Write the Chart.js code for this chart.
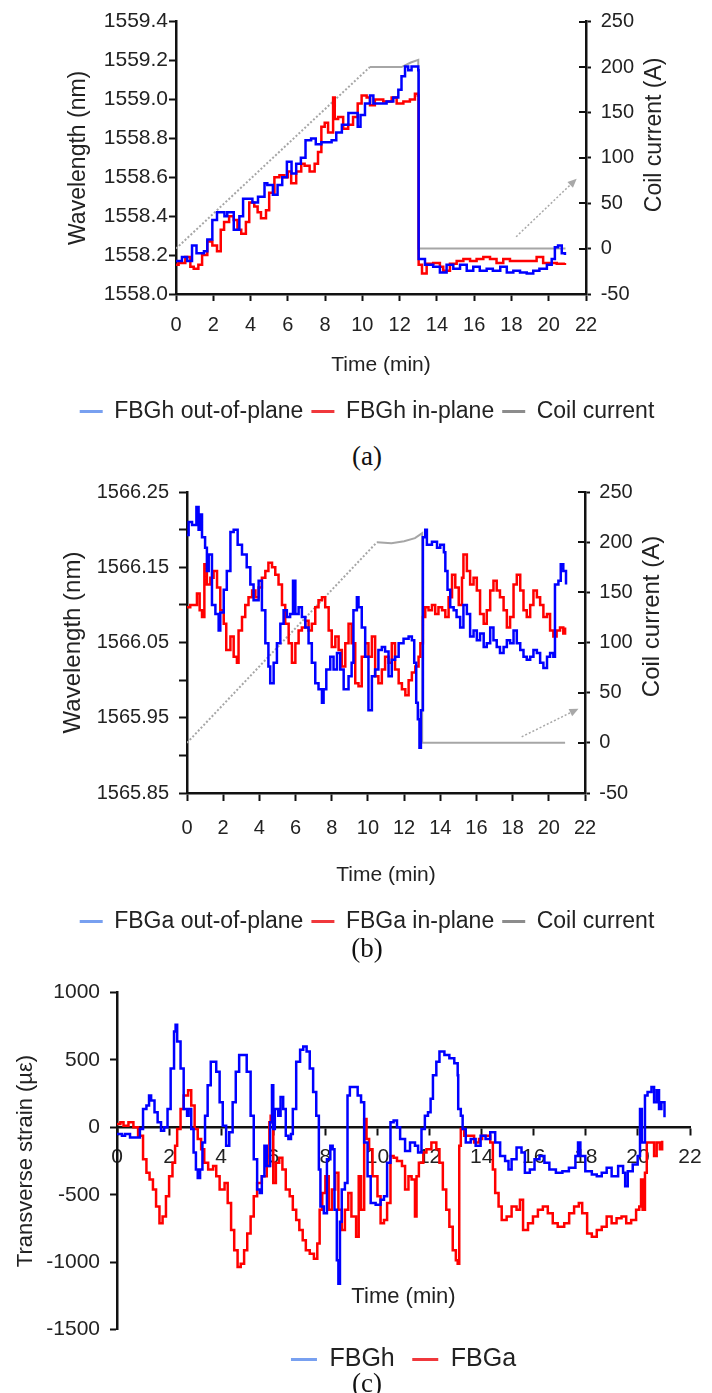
<!DOCTYPE html>
<html>
<head>
<meta charset="utf-8">
<script src="https://cdn.jsdelivr.net/npm/chart.js@4.4.1/dist/chart.umd.min.js"></script>
<style>
  html, body { margin: 0; padding: 0; background: #fff; }
  body { width: 712px; height: 1393px; position: relative; overflow: hidden; }
  canvas { position: absolute; }
  .cap { position: absolute; width: 100px; text-align: center; font: 27px "Liberation Serif", "Times New Roman", serif; line-height: 30px; color: #111; }
</style>
</head>
<body>
<canvas id="chartA" width="690" height="433" style="left:22px;top:0"></canvas>
<div class="cap" style="left:317px;top:441px">(a)</div>
<canvas id="chartB" width="690" height="473" style="left:22px;top:470px"></canvas>
<div class="cap" style="left:317px;top:933px">(b)</div>
<canvas id="chartC" width="712" height="412" style="left:0;top:970px"></canvas>
<div class="cap" style="left:317px;top:1368px">(c)</div>
<script>
// ---- tick values ----
const timeTicks = [0, 2, 4, 6, 8, 10, 12, 14, 16, 18, 20, 22]
const coilTicks = [-50, 0, 50, 100, 150, 200, 250]
const aWaveTicks = [1558.0, 1558.2, 1558.4, 1558.6, 1558.8, 1559.0, 1559.2, 1559.4]
const bWaveTicks = [1565.85, 1565.9, 1565.95, 1566.0, 1566.05, 1566.1, 1566.15, 1566.2, 1566.25]
const strainTicks = [-1500, -1000, -500, 0, 500, 1000]

// ---- (a) FBGh ----
const aBlueT = [0, 0.32, 0.6, 0.86, 1.1, 1.5, 1.68, 1.95, 2.2, 2.6, 2.75, 3.1, 3.4, 3.6, 3.85, 4.1, 4.4, 4.75, 4.9, 5.2,
  5.45, 5.7, 5.95, 6.2, 6.45, 6.7, 6.95, 7.25, 7.5, 7.8, 8.05, 8.35, 8.6, 8.9, 9.25, 9.6, 9.75, 9.9, 10.14, 10.41,
  10.59, 10.94, 11.3, 11.66, 11.93, 12.1, 12.29, 12.46, 12.64, 12.82, 13.0, 13.02, 13.36, 13.8, 14.16, 14.52, 14.88,
  15.24, 15.6, 15.95, 16.3, 16.67, 17.0, 17.4, 17.75, 18.1, 18.46, 18.82, 19.17, 19.5, 19.9, 20.16, 20.33, 20.5, 20.7, 20.87]
const aBlue = [1558.17, 1558.19, 1558.17, 1558.25, 1558.21, 1558.22, 1558.28, 1558.38, 1558.42, 1558.40, 1558.42,
  1558.33, 1558.40, 1558.49, 1558.49, 1558.47, 1558.50, 1558.57, 1558.56, 1558.51, 1558.56, 1558.60, 1558.68, 1558.62,
  1558.67, 1558.70, 1558.79, 1558.80, 1558.77, 1558.78, 1558.78, 1558.79, 1558.83, 1558.87, 1558.93, 1558.93, 1558.86,
  1558.92, 1558.98, 1559.02, 1558.98, 1558.98, 1558.99, 1559.01, 1559.05, 1559.12, 1559.17, 1559.15, 1559.17, 1559.17,
  1559.15, 1558.18, 1558.15, 1558.14, 1558.11, 1558.15, 1558.13, 1558.15, 1558.12, 1558.14, 1558.12, 1558.13, 1558.12,
  1558.14, 1558.11, 1558.12, 1558.11, 1558.105, 1558.12, 1558.13, 1558.15, 1558.18, 1558.24, 1558.25, 1558.21, 1558.20]
const aRedT = [0, 0.14, 0.5, 0.77, 0.95, 1.2, 1.4, 1.68, 1.95, 2.2, 2.4, 2.58, 2.85, 3.1, 3.3, 3.5, 3.75, 3.93, 4.2,
  4.38, 4.56, 4.83, 5.0, 5.28, 5.55, 5.82, 6.0, 6.18, 6.45, 6.72, 6.9, 7.17, 7.44, 7.62, 7.8, 7.98, 8.16, 8.43, 8.52,
  8.7, 8.97, 9.24, 9.5, 9.75, 9.96, 10.23, 10.41, 10.67, 11.12, 11.57, 11.84, 12.2, 12.55, 12.82, 12.98, 13.02, 13.2,
  13.45, 13.8, 14.16, 14.34, 14.7, 15.06, 15.42, 15.78, 16.13, 16.49, 16.85, 17.2, 17.56, 17.92, 18.28, 18.64, 19.0,
  19.35, 19.7, 20.07, 20.43, 20.87]
const aRed = [1558.15, 1558.16, 1558.19, 1558.14, 1558.13, 1558.15, 1558.20, 1558.27, 1558.25, 1558.22, 1558.33,
  1558.37, 1558.40, 1558.38, 1558.33, 1558.31, 1558.37, 1558.47, 1558.45, 1558.42, 1558.39, 1558.43, 1558.52, 1558.60,
  1558.61, 1558.60, 1558.63, 1558.57, 1558.63, 1558.67, 1558.66, 1558.63, 1558.67, 1558.73, 1558.86, 1558.88, 1558.83,
  1559.01, 1558.90, 1558.91, 1558.85, 1558.87, 1558.91, 1558.98, 1559.02, 1559.01, 1558.97, 1559.00, 1558.99, 1559.01,
  1558.98, 1558.99, 1559.00, 1559.03, 1559.02, 1558.15, 1558.105, 1558.155, 1558.16, 1558.14, 1558.12, 1558.155,
  1558.17, 1558.18, 1558.17, 1558.18, 1558.19, 1558.18, 1558.16, 1558.18, 1558.17, 1558.17, 1558.17, 1558.17, 1558.19,
  1558.16, 1558.16, 1558.155, 1558.16]
const aCoilT = [0, 10.4, 12.1, 12.6, 13.0, 13.0, 20.9]
const aCoil = [0, 200, 200, 205, 208, 0, 0]

// ---- (b) FBGa ----
const bBlueT = [0, 0.09, 0.28, 0.52, 0.64, 0.74, 0.83, 1.0, 1.1, 1.2, 1.38, 1.57, 1.75, 1.84, 2.03, 2.2, 2.4, 2.58,
  2.8, 3.04, 3.3, 3.5, 3.68, 3.96, 4.14, 4.33, 4.5, 4.6, 4.79, 4.97, 5.16, 5.34, 5.52, 5.7, 5.86, 5.99, 6.17, 6.35,
  6.54, 6.72, 6.9, 7.09, 7.27, 7.46, 7.55, 7.7, 7.92, 8.1, 8.29, 8.47, 8.66, 8.93, 9.1, 9.2, 9.39, 9.48, 9.66, 9.85,
  10.03, 10.22, 10.4, 10.58, 10.77, 10.95, 11.14, 11.32, 11.5, 11.7, 11.97, 12.25, 12.43, 12.56, 12.67, 12.76, 12.85,
  12.93, 13.04, 13.17, 13.26, 13.54, 13.82, 14.0, 14.2, 14.28, 14.4, 14.55, 14.74, 14.9, 15.1, 15.28, 15.47, 15.65,
  15.84, 16.02, 16.2, 16.4, 16.57, 16.76, 16.94, 17.12, 17.3, 17.5, 17.68, 17.86, 18.05, 18.23, 18.42, 18.6, 18.78,
  18.97, 19.15, 19.34, 19.52, 19.7, 19.9, 20.07, 20.25, 20.34, 20.53, 20.66, 20.8, 20.95]
const bBlue = [1566.193, 1566.21, 1566.206, 1566.23, 1566.20, 1566.22, 1566.19, 1566.176, 1566.145, 1566.167, 1566.10,
  1566.088, 1566.066, 1566.09, 1566.12, 1566.145, 1566.197, 1566.20, 1566.18, 1566.167, 1566.15, 1566.127, 1566.106,
  1566.132, 1566.093, 1566.049, 1566.018, 1565.996, 1566.023, 1566.049, 1566.075, 1566.093, 1566.084, 1566.088,
  1566.132, 1566.088, 1566.097, 1566.084, 1566.07, 1566.049, 1566.023, 1565.996, 1565.988, 1565.97, 1565.988,
  1566.014, 1566.031, 1566.014, 1566.036, 1566.014, 1565.988, 1566.005, 1566.023, 1566.093, 1566.11, 1566.097,
  1566.07, 1566.031, 1565.96, 1566.005, 1566.014, 1566.04, 1566.044, 1566.038, 1566.005, 1566.027, 1566.031, 1566.049,
  1566.055, 1566.058, 1566.053, 1566.023, 1565.97, 1565.948, 1565.91, 1565.96, 1566.19, 1566.20, 1566.18, 1566.184,
  1566.176, 1566.18, 1566.17, 1566.145, 1566.12, 1566.097, 1566.093, 1566.084, 1566.07, 1566.10, 1566.088, 1566.058,
  1566.066, 1566.053, 1566.062, 1566.044, 1566.049, 1566.07, 1566.053, 1566.044, 1566.036, 1566.044, 1566.053,
  1566.049, 1566.066, 1566.049, 1566.04, 1566.031, 1566.027, 1566.031, 1566.04, 1566.036, 1566.023, 1566.016,
  1566.031, 1566.036, 1566.031, 1566.127, 1566.132, 1566.154, 1566.145, 1566.127]
const bRedT = [0, 0.18, 0.37, 0.55, 0.7, 0.83, 0.96, 1.1, 1.29, 1.47, 1.66, 1.84, 2.03, 2.17, 2.4, 2.58, 2.76, 2.85,
  3.04, 3.22, 3.4, 3.6, 3.78, 3.96, 4.14, 4.33, 4.5, 4.7, 4.88, 5.06, 5.25, 5.43, 5.62, 5.8, 5.99, 6.17, 6.35, 6.54,
  6.72, 6.9, 7.09, 7.27, 7.46, 7.64, 7.83, 8.0, 8.2, 8.38, 8.56, 8.75, 8.93, 9.1, 9.3, 9.48, 9.66, 9.85, 10.03, 10.22,
  10.4, 10.58, 10.77, 10.95, 11.14, 11.32, 11.5, 11.7, 11.88, 12.07, 12.25, 12.43, 12.62, 12.8, 12.9, 13.04, 13.17,
  13.35, 13.54, 13.72, 13.9, 14.1, 14.28, 14.46, 14.65, 14.83, 15.02, 15.2, 15.28, 15.47, 15.65, 15.84, 16.02, 16.2,
  16.4, 16.57, 16.76, 16.94, 17.12, 17.3, 17.5, 17.68, 17.86, 18.05, 18.23, 18.42, 18.6, 18.78, 18.97, 19.15, 19.34,
  19.52, 19.7, 19.9, 20.07, 20.25, 20.43, 20.62, 20.8, 20.9]
const bRed = [1566.097, 1566.10, 1566.10, 1566.115, 1566.093, 1566.084, 1566.154, 1566.127, 1566.136, 1566.145,
  1566.123, 1566.093, 1566.075, 1566.04, 1566.058, 1566.031, 1566.023, 1566.066, 1566.084, 1566.10, 1566.11, 1566.119,
  1566.11, 1566.123, 1566.136, 1566.145, 1566.156, 1566.15, 1566.14, 1566.127, 1566.10, 1566.075, 1566.049, 1566.023,
  1566.049, 1566.066, 1566.07, 1566.079, 1566.066, 1566.075, 1566.097, 1566.106, 1566.11, 1566.097, 1566.066, 1566.044,
  1566.058, 1566.04, 1566.018, 1566.049, 1566.075, 1566.049, 1565.996, 1565.992, 1566.031, 1566.049, 1566.031,
  1566.058, 1566.005, 1565.996, 1566.014, 1566.031, 1566.023, 1566.049, 1566.014, 1565.996, 1565.988, 1565.98, 1566.0,
  1566.01, 1566.018, 1566.031, 1566.049, 1566.084, 1566.097, 1566.093, 1566.10, 1566.088, 1566.097, 1566.093, 1566.084,
  1566.11, 1566.14, 1566.123, 1566.10, 1566.136, 1566.167, 1566.145, 1566.127, 1566.136, 1566.119, 1566.088, 1566.075,
  1566.093, 1566.119, 1566.132, 1566.119, 1566.11, 1566.093, 1566.07, 1566.084, 1566.127, 1566.14, 1566.119, 1566.093,
  1566.084, 1566.10, 1566.119, 1566.11, 1566.10, 1566.084, 1566.088, 1566.066, 1566.058, 1566.066, 1566.07, 1566.062,
  1566.07]
const bCoilT = [0, 10.5, 11.3, 12.0, 12.6, 13.0, 13.0, 20.9]
const bCoil = [0, 200, 199, 201, 204, 209, 0, 0]

// ---- (c) transverse strain ----
const cBlueT = [0, 0.19, 0.31, 0.5, 0.75, 0.88, 1.0, 1.13, 1.23, 1.31, 1.44, 1.56, 1.69, 1.81, 1.94, 2.06, 2.19, 2.25,
  2.31, 2.44, 2.56, 2.69, 2.75, 2.85, 2.94, 3.03, 3.1, 3.19, 3.28, 3.38, 3.48, 3.6, 3.69, 3.81, 3.94, 4.06, 4.19, 4.31,
  4.44, 4.56, 4.69, 4.85, 4.98, 5.13, 5.25, 5.38, 5.48, 5.56, 5.66, 5.75, 5.88, 5.95, 6.0, 6.06, 6.19, 6.28, 6.38, 6.48,
  6.58, 6.68, 6.75, 6.88, 7.03, 7.15, 7.28, 7.4, 7.53, 7.65, 7.75, 7.81, 7.94, 8.06, 8.19, 8.28, 8.35, 8.44, 8.5, 8.56,
  8.63, 8.75, 8.85, 8.94, 9.05, 9.24, 9.37, 9.49, 9.62, 9.74, 9.93, 10.12, 10.25, 10.37, 10.5, 10.62, 10.75, 10.87,
  11.06, 11.25, 11.44, 11.56, 11.69, 11.82, 11.94, 12.04, 12.13, 12.26, 12.38, 12.57, 12.76, 12.95, 13.08, 13.1, 13.2,
  13.27, 13.39, 13.58, 13.77, 13.96, 14.15, 14.33, 14.52, 14.71, 14.9, 15.03, 15.15, 15.34, 15.53, 15.66, 15.85, 16.03,
  16.22, 16.41, 16.6, 16.85, 17.1, 17.35, 17.6, 17.7, 17.79, 17.98, 18.23, 18.42, 18.61, 18.8, 18.99, 19.24, 19.43,
  19.51, 19.61, 19.8, 19.99, 20.08, 20.15, 20.27, 20.37, 20.52, 20.62, 20.72, 20.81, 20.9, 21.02]
const cBlue = [-50, -62, -50, -75, -75, -12, 137, 162, 237, 200, 112, 37, -25, 0, 137, 437, 712, 762, 637, 437, 137, 87,
  137, -12, -187, -312, -375, -312, -112, 87, 312, 487, 487, 412, 187, 12, -137, -37, 187, 412, 537, 537, 412, 87, -237,
  -462, -487, -362, -137, -287, 37, 312, -12, 137, 87, 225, 137, -62, -87, -50, 137, 487, 575, 600, 562, 437, 262, 87,
  -312, -587, -637, -237, -137, -162, -612, -987, -1160, -700, -462, -412, 237, 300, 300, 237, 187, -112, -362, -562,
  -575, -537, -512, -262, 37, 50, 0, -87, -175, -112, -137, -187, -12, 87, 112, 212, 387, 487, 562, 537, 512, 475, 387,
  137, 87, -12, -112, -87, -137, -62, -87, -37, -112, -212, -250, -312, -237, -150, -187, -337, -312, -237, -212, -262,
  -312, -337, -325, -300, -212, -112, -212, -325, -350, -362, -337, -300, -362, -287, -337, -437, -325, -275, -212, 137,
  -112, 237, 262, 300, 187, 275, 137, 187, 75]
const cRedT = [0, 0.13, 0.25, 0.44, 0.63, 0.81, 1.0, 1.13, 1.25, 1.38, 1.5, 1.63, 1.75, 1.88, 2.0, 2.13, 2.23, 2.31,
  2.44, 2.56, 2.73, 2.85, 2.98, 3.1, 3.23, 3.35, 3.5, 3.69, 3.81, 3.94, 4.13, 4.25, 4.38, 4.5, 4.63, 4.75, 4.88, 5.0,
  5.13, 5.25, 5.38, 5.56, 5.75, 5.85, 5.9, 6.0, 6.1, 6.23, 6.35, 6.48, 6.63, 6.75, 6.88, 7.0, 7.13, 7.25, 7.4, 7.56,
  7.69, 7.78, 7.88, 8.0, 8.13, 8.25, 8.38, 8.5, 8.63, 8.75, 8.88, 9.0, 9.18, 9.28, 9.37, 9.49, 9.58, 9.68, 9.81, 10.0,
  10.12, 10.25, 10.37, 10.5, 10.62, 10.75, 10.94, 11.06, 11.19, 11.31, 11.44, 11.5, 11.59, 11.76, 11.88, 12.07, 12.26,
  12.38, 12.51, 12.64, 12.76, 12.89, 13.01, 13.08, 13.14, 13.2, 13.33, 13.52, 13.71, 13.9, 14.02, 14.15, 14.33, 14.43,
  14.52, 14.65, 14.77, 14.96, 15.15, 15.34, 15.47, 15.59, 15.78, 15.97, 16.16, 16.35, 16.54, 16.73, 16.92, 17.17,
  17.36, 17.55, 17.73, 17.86, 18.05, 18.23, 18.42, 18.61, 18.8, 18.99, 19.18, 19.37, 19.55, 19.74, 19.93, 20.05,
  20.12, 20.18, 20.27, 20.34, 20.49, 20.62, 20.72, 20.84, 20.93]
const cRed = [25, 37, 12, 37, 0, -62, -237, -337, -387, -462, -587, -712, -662, -512, -362, -262, -137, -12, 137, 237,
  275, 162, -12, -87, -162, -262, -312, -287, -362, -462, -412, -562, -762, -912, -1037, -1012, -912, -787, -662, -512,
  -412, -362, -287, 37, 87, -412, -262, -225, -312, -462, -512, -612, -687, -762, -837, -912, -937, -975, -862, -612,
  -487, -362, -612, -462, -337, -612, -762, -612, -487, -662, -812, -362, -612, 62, -87, -162, -362, -512, -712, -687,
  -562, -212, -225, -250, -287, -462, -362, -387, -662, -362, -262, -187, -162, -112, -162, -262, -462, -612, -737,
  -912, -987, -1012, -137, -12, -62, -62, -112, -87, -62, -62, -112, -312, -487, -587, -687, -662, -587, -612, -537,
  -762, -712, -662, -612, -587, -637, -712, -737, -712, -637, -587, -562, -637, -787, -812, -762, -737, -662, -712,
  -675, -662, -712, -687, -612, -587, -387, -612, -337, -112, -112, -212, -112, -162, -100]

// arrows pointing at the coil-current axis: [time, current]
const aArrow = [[18.25, 13], [21.5, 77]]
const bArrow = [[18.5, 6], [21.64, 34]]

const TXT = '#222'
const AXIS = '#111'
const BLUE = '#0000ff'
const RED = '#ff0000'
const GRAY = '#a6a6a6'
const swatchColors = ['#78a0f0', '#f0383c', '#8c8c8c']

Chart.defaults.font.family = '"Liberation Sans", Arial, sans-serif'
Chart.defaults.color = TXT

const pts = (xs, ys) => xs.map((x, i) => ({ x: x, y: ys[i] }))
const setTicks = (vals) => (scale) => { scale.ticks = vals.map((v) => ({ value: v })) }

function axisLook(tickLen) {
  return {
    border: { display: true, color: AXIS, width: 2.5 },
    grid: { drawOnChartArea: false, drawTicks: true, tickLength: tickLen, tickWidth: 2, color: AXIS },
  }
}

function legendOpts(size, pad, box, fullSize) {
  return {
    position: 'bottom',
    fullSize: fullSize,
    labels: {
      font: { size: size },
      color: TXT,
      padding: pad,
      boxWidth: box,
      boxHeight: 3,
      generateLabels: (chart) =>
        Chart.defaults.plugins.legend.labels.generateLabels(chart).map((l, i) => ({
          ...l, fillStyle: swatchColors[i], strokeStyle: swatchColors[i], lineWidth: 0,
        })),
    },
  }
}

function trace(label, color, data) {
  return { label, data, borderColor: color, backgroundColor: color, borderWidth: 2.5, pointRadius: 0, stepped: true, yAxisID: 'y' }
}

function coilTrace(data) {
  return {
    label: 'Coil current', data, borderColor: GRAY, backgroundColor: GRAY, borderWidth: 2, pointRadius: 0,
    yAxisID: 'y1',
    segment: {
      borderDash: (ctx) => (ctx.p1.parsed.x - ctx.p0.parsed.x > 1 && ctx.p1.parsed.y > ctx.p0.parsed.y + 20 ? [2, 2] : undefined),
    },
  }
}

// inner half of the right-axis ticks, the dotted arrow, and the upward right title
function coilExtras(arrow, title, size, offset, dy) {
  return {
    id: 'coilExtras',
    afterDraw(chart) {
      const { ctx, chartArea: ca, scales } = chart
      const x = scales.x
      const y1 = scales.y1
      ctx.save()
      ctx.strokeStyle = AXIS
      ctx.lineWidth = 2
      y1.ticks.forEach((t) => {
        const py = Math.round(y1.getPixelForValue(t.value))
        ctx.beginPath()
        ctx.moveTo(ca.right - 7, py)
        ctx.lineTo(ca.right, py)
        ctx.stroke()
      })
      const x0 = x.getPixelForValue(arrow[0][0])
      const y0 = y1.getPixelForValue(arrow[0][1])
      const xe = x.getPixelForValue(arrow[1][0])
      const ye = y1.getPixelForValue(arrow[1][1])
      const ang = Math.atan2(ye - y0, xe - x0)
      const bx = xe - 9 * Math.cos(ang)
      const by = ye - 9 * Math.sin(ang)
      ctx.strokeStyle = '#a8a8a8'
      ctx.lineWidth = 1.5
      ctx.setLineDash([2, 2])
      ctx.beginPath()
      ctx.moveTo(x0, y0)
      ctx.lineTo(bx, by)
      ctx.stroke()
      ctx.setLineDash([])
      ctx.fillStyle = '#a8a8a8'
      ctx.beginPath()
      ctx.moveTo(xe, ye)
      ctx.lineTo(bx + 4 * Math.sin(ang), by - 4 * Math.cos(ang))
      ctx.lineTo(bx - 4 * Math.sin(ang), by + 4 * Math.cos(ang))
      ctx.closePath()
      ctx.fill()
      ctx.translate(y1.right - offset, (ca.top + ca.bottom) / 2 + dy)
      ctx.rotate(-Math.PI / 2)
      ctx.font = size + 'px "Liberation Sans", Arial, sans-serif'
      ctx.fillStyle = TXT
      ctx.textAlign = 'center'
      ctx.textBaseline = 'middle'
      ctx.fillText(title, 0, 0)
      ctx.restore()
    },
  }
}

// (a)
new Chart(document.getElementById('chartA'), {
  type: 'line',
  data: {
    datasets: [
      trace('FBGh out-of-plane', BLUE, pts(aBlueT, aBlue)),
      trace('FBGh in-plane', RED, pts(aRedT, aRed)),
      coilTrace(pts(aCoilT, aCoil)),
    ],
  },
  options: {
    responsive: false,
    animation: false,
    devicePixelRatio: 1,
    layout: { padding: { top: 17, left: 0, right: 0, bottom: 0 } },
    plugins: { legend: legendOpts(23, 8, 23, true), tooltip: { enabled: false } },
    scales: {
      x: {
        type: 'linear', min: 0, max: 22, ...axisLook(7),
        afterBuildTicks: setTicks(timeTicks),
        ticks: { font: { size: 20 }, padding: 12.4, maxRotation: 0, autoSkip: false },
        title: { display: true, text: 'Time (min)', font: { size: 21 }, color: TXT, padding: { top: 4, bottom: 14.4 } },
        afterFit: (s) => { s.height = 98 },
      },
      y: {
        position: 'left', min: 1558.0, max: 1559.4, ...axisLook(7),
        afterBuildTicks: setTicks(aWaveTicks),
        ticks: { font: { size: 21 }, padding: 1, autoSkip: false, callback: (v) => v.toFixed(1) },
        title: { display: true, text: 'Wavelength (nm)', font: { size: 23 }, color: TXT, padding: { top: 42.8, bottom: 0 } },
        afterFit: (s) => { s.width = 154 },
      },
      y1: {
        position: 'right', min: -50, max: 250, ...axisLook(5),
        afterBuildTicks: setTicks(coilTicks),
        ticks: { font: { size: 20 }, padding: 9.7, autoSkip: false, callback: (v) => String(v) },
        afterFit: (s) => { s.width = 126 },
      },
    },
  },
  plugins: [coilExtras(aArrow, 'Coil current (A)', 23, 57, -23)],
})

// (b)
new Chart(document.getElementById('chartB'), {
  type: 'line',
  data: {
    datasets: [
      trace('FBGa out-of-plane', BLUE, pts(bBlueT, bBlue)),
      trace('FBGa in-plane', RED, pts(bRedT, bRed)),
      coilTrace(pts(bCoilT, bCoil)),
    ],
  },
  options: {
    responsive: false,
    animation: false,
    devicePixelRatio: 1,
    layout: { padding: { top: 20, left: 0, right: 0, bottom: 0 } },
    plugins: { legend: legendOpts(23, 8, 23, true), tooltip: { enabled: false } },
    scales: {
      x: {
        type: 'linear', min: 0, max: 22, ...axisLook(8),
        afterBuildTicks: setTicks(timeTicks),
        ticks: { font: { size: 20 }, padding: 15.4, maxRotation: 0, autoSkip: false },
        title: { display: true, text: 'Time (min)', font: { size: 21 }, color: TXT, padding: { top: 4, bottom: 14.4 } },
        afterFit: (s) => { s.height = 109 },
      },
      y: {
        position: 'left', min: 1565.85, max: 1566.25, ...axisLook(8),
        afterBuildTicks: setTicks(bWaveTicks),
        ticks: { font: { size: 20 }, padding: 10, autoSkip: false, callback: (v, i) => (i % 2 === 0 ? v.toFixed(2) : '') },
        title: { display: true, text: 'Wavelength (nm)', font: { size: 24 }, color: TXT, padding: { top: 37.1, bottom: 0 } },
        afterFit: (s) => { s.width = 165 },
      },
      y1: {
        position: 'right', min: -50, max: 250, ...axisLook(5),
        afterBuildTicks: setTicks(coilTicks),
        ticks: { font: { size: 20 }, padding: 9.3, autoSkip: false, callback: (v) => String(v) },
        afterFit: (s) => { s.width = 127 },
      },
    },
  },
  plugins: [coilExtras(bArrow, 'Coil current (A)', 24, 60, -26)],
})

// (c)
new Chart(document.getElementById('chartC'), {
  type: 'line',
  data: {
    datasets: [
      trace('FBGh', BLUE, pts(cBlueT, cBlue)),
      trace('FBGa', RED, pts(cRedT, cRed)),
    ],
  },
  options: {
    responsive: false,
    animation: false,
    devicePixelRatio: 1,
    layout: { padding: { top: 18, left: 0, right: 12, bottom: 0 } },
    plugins: { legend: legendOpts(25, 17.5, 26, false), tooltip: { enabled: false } },
    scales: {
      x: {
        type: 'linear', min: 0, max: 22, position: { y: 0 }, ...axisLook(7),
        afterBuildTicks: setTicks(timeTicks),
        ticks: { font: { size: 21 }, padding: 10.3, maxRotation: 0, autoSkip: false },
        title: { display: true, text: 'Time (min)', font: { size: 22 }, color: TXT, padding: { top: 4, bottom: 4 } },
        afterFit: (s) => { s.height = 186.6 },
      },
      y: {
        position: 'left', min: -1500, max: 1000, ...axisLook(7),
        afterBuildTicks: setTicks(strainTicks),
        ticks: { font: { size: 21 }, padding: 10, autoSkip: false, callback: (v) => String(v) },
        title: { display: true, text: 'Transverse strain (µε)', font: { size: 22 }, color: TXT, padding: { top: 12.8, bottom: 0 } },
        afterFit: (s) => { s.width = 117 },
      },
    },
  },
})
</script>
</body>
</html>
